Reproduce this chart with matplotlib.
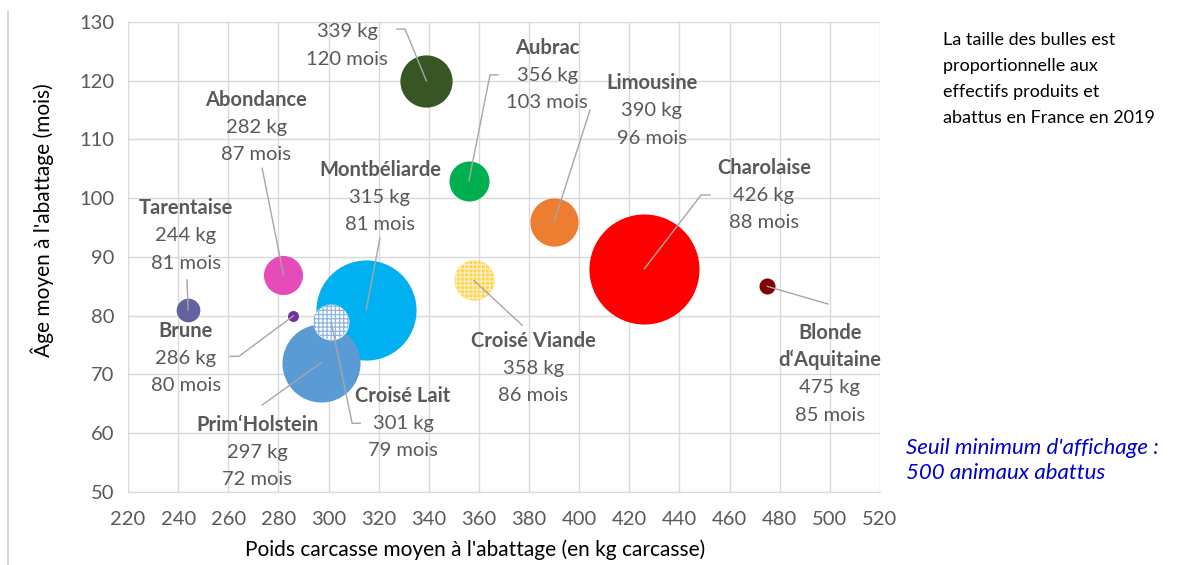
import matplotlib.pyplot as plt
from matplotlib.lines import Line2D

# Races bovines : poids carcasse moyen (kg), âge moyen (mois), effectifs (milliers de têtes)
races = ["Charolaise", "Montbéliarde", "Prim\u2018Holstein", "", "Limousine", "Aubrac",
         "Croisé Viande", "Abondance", "Croisé Lait", "Tarentaise", "Blonde\nd\u2018Aquitaine", "Brune"]
poids = [426, 315, 297, 339, 390, 356, 358, 282, 301, 244, 475, 286]
ages = [88, 81, 72, 120, 96, 103, 86, 87, 79, 81, 85, 80]
effectifs = [302, 250, 152, 68, 58, 40, 40, 38, 32, 14, 6.4, 3]
couleurs = ["#FF0000", "#00B0F0", "#5B9BD5", "#375623", "#ED7D31", "#00B050",
            "#FFD44F", "#E64CB9", "#FFFFFF", "#62629E", "#7F0000", "#7030A0"]
hachures = [None, None, None, None, None, None, "++++", None, "++++", None, None, None]
couleurs_hachures = [None, None, None, None, None, None, "#FFF0C2", None, "#8EB4E3",
                     None, None, None]

# position du bloc d'étiquette et extrémités des traits de rappel
pos_etiquettes = [(473.7, 100.5), (320.5, 100.2), (271.5, 56.8), (307.4, 126.0),
                  (429.0, 114.9), (387.2, 120.9), (381.6, 71.1), (271.1, 112.1),
                  (329.7, 61.7), (243.1, 93.6), (500.0, 70.1), (243.1, 72.8)]
rappels = [[(448.6, 100.55), (452.2, 100.55)], [(320.5, 93.2)], [(273.5, 64.8)],
           [(330.5, 128.8), (327.3, 128.8)], [(404.3, 115.0)],
           [(364.4, 121.0), (367.6, 121.0)], [(377.2, 78.4)], [(273.5, 105.1)],
           [(309.4, 61.7), (312.6, 61.7)], [(243.5, 86.1)], [(499.2, 82.0)],
           [(264.3, 73.1), (260.7, 73.1)]]

gris = "#595959"
plt.rcParams["font.family"] = ["Lato", "DejaVu Sans"]
plt.rcParams["hatch.linewidth"] = 0.9

fig = plt.figure(figsize=(11.79, 5.65), dpi=100)
ax = fig.add_axes([0.1086, 0.1292, 0.6378, 0.8319])

# échelle : aire de la bulle proportionnelle à l'effectif
k = 20.8
for i in range(len(races)):
    ax.scatter(poids[i], ages[i], s=effectifs[i] * k, color=couleurs[i],
               linewidths=0, zorder=3 + i * 0.01)
    if hachures[i]:
        ax.scatter(poids[i], ages[i], s=effectifs[i] * k, facecolor="none",
                   edgecolor=couleurs_hachures[i], hatch=hachures[i], linewidths=0,
                   zorder=3 + i * 0.01 + 0.005)

for i in range(len(races)):
    pts = [(poids[i], ages[i])] + rappels[i]
    ax.add_line(Line2D([p[0] for p in pts], [p[1] for p in pts], color="#A6A6A6",
                       lw=1, zorder=4))

    lignes = []
    if races[i]:
        lignes += [(l, "bold") for l in races[i].split("\n")]
    lignes += [("%d kg" % poids[i], "normal"), ("%d mois" % ages[i], "normal")]
    n = len(lignes)
    for j, (txt, poids_police) in enumerate(lignes):
        dy = ((n - 1) / 2 - j) * 19.8
        ax.annotate(txt, pos_etiquettes[i], xytext=(0, dy), textcoords="offset points",
                    ha="center", va="center", fontsize=14.5, color=gris,
                    fontweight=poids_police, zorder=5)

ax.set_xlim(220, 520)
ax.set_ylim(50, 130)
ax.set_xticks(range(220, 521, 20))
ax.set_yticks(range(50, 131, 10))
ax.grid(True, color="#D9D9D9", lw=1, zorder=0)
ax.set_axisbelow(True)
for side in ["top", "right"]:
    ax.spines[side].set_visible(False)
for side in ["left", "bottom"]:
    ax.spines[side].set_color("#D9D9D9")
ax.tick_params(length=0, labelsize=14.5, labelcolor=gris)
ax.tick_params(axis="x", pad=14)
ax.tick_params(axis="y", pad=10)
ax.set_xlabel("Poids carcasse moyen à l'abattage (en kg carcasse)", fontsize=15,
              color="#000000")
ax.set_ylabel("Âge moyen à l'abattage (mois)", fontsize=15, color="#000000")
ax.xaxis.set_label_coords(0.461, -0.1)
ax.yaxis.set_label_coords(-0.098, 0.579)

fig.text(0.7998, 0.944, "La taille des bulles est\nproportionnelle aux\n"
         "effectifs produits et\nabattus en France en 2019",
         ha="left", va="top", fontsize=13, linespacing=1.78)
fig.text(0.7685, 0.185, "Seuil minimum d'affichage :\n500 animaux abattus",
         ha="left", va="center", fontsize=16, style="italic", color="#0000CC",
         linespacing=1.35)

fig.add_artist(Line2D([0.0068, 0.0068], [0.0, 0.98], color="#D9D9D9", lw=1.5))

fig.savefig("out.png", dpi=100)
